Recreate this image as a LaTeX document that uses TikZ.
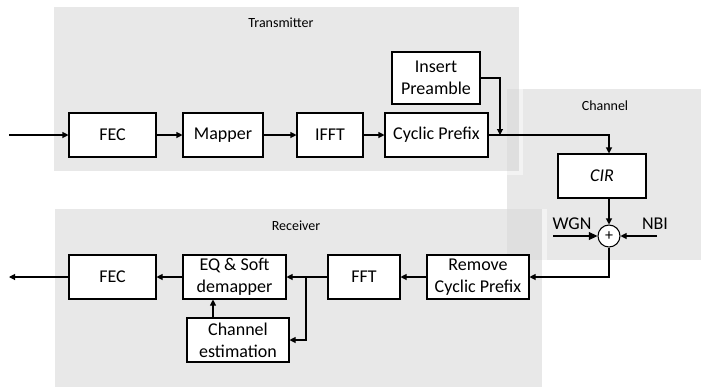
\documentclass[tikz,border=0pt]{standalone}
\usepackage{fontspec}
\setmainfont{Carlito}
\usetikzlibrary{arrows.meta}
\begin{document}
\begin{tikzpicture}[x=0.75pt,y=-0.75pt,
  panel/.style={fill={rgb,255:red,217;green,217;blue,217}, fill opacity=0.6},
  rim/.style={fill=white, fill opacity=0.5},
  blk/.style 2 args={draw, fill=white, line width=0.8pt, inner sep=0pt, align=center,
    minimum width=#1*0.75pt, minimum height=#2*0.75pt,
    font=\fontsize{13.5}{16.5}\selectfont},
  title/.style={font=\fontsize{10.5}{12}\selectfont},
  lbl/.style={font=\fontsize{13.5}{16}\selectfont, inner sep=0pt},
  wire/.style={line width=0.8pt},
  flow/.style={wire, -{Triangle[length=4.5pt,width=4.5pt]}},
  bigflow/.style={wire, -{Triangle[length=6.5pt,width=6pt]}},
]
\useasboundingbox (0,0) rectangle (701,387);

% shaded stages
\fill[panel] (507,89) rectangle (701,260);
\fill[panel] (54,7) rectangle (519,171);
\fill[panel] (55,209) rectangle (542,387);
\fill[rim] (519,7) rectangle (523,175);
\fill[rim] (54,171) rectangle (519,175);
\fill[rim] (542,209) rectangle (547,387);

\node[title] (ttx) at (281,23) {Transmitter};
\node[title] (tch) at (605,106) {Channel};
\node[title] (trx) at (296,226) {Receiver};

% transmitter chain
\node[blk={87}{44}] (ftx) at (112.5,135) {FEC};
\node[blk={80}{44}] (map) at (223,135) {Mapper};
\node[blk={66}{44}] (ifft) at (330,135) {IFFT};
\node[blk={103}{44}] (cp) at (436.5,135) {Cyclic Prefix};
\node[blk={88}{52}] (ip) at (436,78) {Insert\\Preamble};

% channel
\node[blk={88}{44}] (cir) at (602,176) {\itshape CIR};
\node[circle, draw, fill=white, line width=0.8pt, minimum size=22*0.75pt, inner sep=0pt,
      font=\fontsize{12}{12}\selectfont] (add) at (609,236) {+};
\node[lbl] (wgn) at (572,223.5) {WGN};
\node[lbl] (nbi) at (655,223.5) {NBI};

% receiver chain
\node[blk={102}{44}] (rcp) at (478,277) {Remove\\Cyclic Prefix};
\node[blk={72}{44}] (fft) at (364,277) {FFT};
\node[blk={103}{44}] (eq) at (234.5,277) {EQ \& Soft\\demapper};
\node[blk={102}{44}] (ce) at (238,340) {Channel\\estimation};
\node[blk={87}{44}] (frx) at (112.5,277) {FEC};

% connector ends
\coordinate (in) at (9,135);
\coordinate (out) at (9,277);
\coordinate (pj) at (500,135);
\coordinate (wgnin) at (553,236);
\coordinate (nbiin) at (657,236);
\coordinate (br) at (306,277);
\coordinate (ceup) at (213,318);

\draw[flow] (in) -- (ftx.west);
\draw[flow] (ftx) -- (map);
\draw[flow] (map) -- (ifft);
\draw[flow] (ifft) -- (cp);
\draw[flow] (ip.east) -| (pj);
\draw[flow] (cp.east) -| (add |- cir.north);
\draw[flow] (add |- cir.south) -- (add.north);
\draw[bigflow] (wgnin) -- (add.west);
\draw[flow] (nbiin) -- (add.east);
\draw[flow] (add.south) |- (rcp.east);
\draw[flow] (rcp) -- (fft);
\draw[flow] (fft) -- (eq);
\draw[flow] (br) |- (ce.east);
\draw[flow] (ceup) -- (ceup |- eq.south);
\draw[flow] (eq) -- (frx);
\draw[flow] (frx.west) -- (out);
\end{tikzpicture}
\end{document}
